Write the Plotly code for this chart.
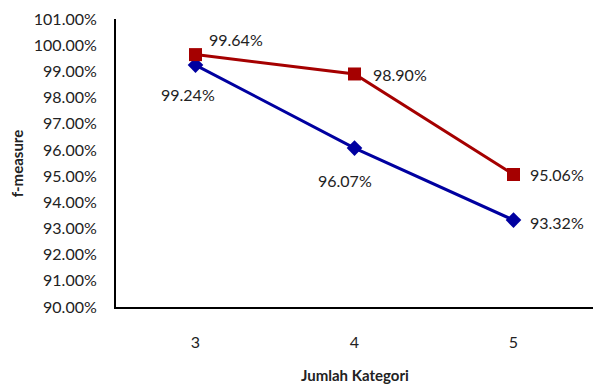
import plotly.graph_objects as go

categories = ["3", "4", "5"]
series_red = [99.64, 98.90, 95.06]
series_blue = [99.24, 96.07, 93.32]
y_ticks = [90, 91, 92, 93, 94, 95, 96, 97, 98, 99, 100, 101]

RED = "#A50000"
BLUE = "#0000A0"
FONT = "Lato, Open Sans, sans-serif"
TXT = "#222222"
FS = 16

fig = go.Figure()
fig.add_trace(go.Scatter(
    x=categories, y=series_blue, mode="lines+markers",
    line=dict(color=BLUE, width=3),
    marker=dict(symbol="diamond", size=12, color=BLUE),
    showlegend=False, cliponaxis=False,
))
fig.add_trace(go.Scatter(
    x=categories, y=series_red, mode="lines+markers",
    line=dict(color=RED, width=3),
    marker=dict(symbol="square", size=13, color=RED),
    showlegend=False, cliponaxis=False,
))

# value labels, offset from each point (pixels); x given as category index
red_offsets = [(40, 15), (45, -1), (43, 0)]
blue_offsets = [(-8, -29), (-10, -32), (43, -2)]
for i, (v, (dx, dy)) in enumerate(zip(series_red, red_offsets)):
    fig.add_annotation(x=i, y=v, text=f"{v:.2f}%", showarrow=False,
                       xshift=dx, yshift=dy, yanchor="middle",
                       font=dict(size=FS, color=TXT, family=FONT))
for i, (v, (dx, dy)) in enumerate(zip(series_blue, blue_offsets)):
    fig.add_annotation(x=i, y=v, text=f"{v:.2f}%", showarrow=False,
                       xshift=dx, yshift=dy, yanchor="middle",
                       font=dict(size=FS, color=TXT, family=FONT))

fig.add_annotation(x=0.5, xref="paper", y=-0.235, yref="paper", yanchor="middle",
                   text="<b>Jumlah Kategori</b>", showarrow=False,
                   font=dict(size=FS - 1, color=TXT, family=FONT))
fig.add_annotation(x=-0.207, xref="paper", y=0.5, yref="paper", xanchor="center",
                   text="<b>f-measure</b>", showarrow=False, textangle=-90,
                   font=dict(size=FS - 1, color=TXT, family=FONT))

fig.update_layout(
    width=597, height=385,
    margin=dict(l=116, r=4, t=19, b=78),
    paper_bgcolor="white", plot_bgcolor="white",
    font=dict(family=FONT, size=FS, color=TXT),
    xaxis=dict(type="category", range=[-0.5, 2.5], showgrid=False, zeroline=False,
               showline=True, linecolor="black", linewidth=2, ticks="",
               ticklabelstandoff=20, tickfont=dict(size=FS)),
    yaxis=dict(range=[90, 101], tickvals=y_ticks, ticktext=[f"{t:.2f}%" for t in y_ticks],
               showgrid=False, zeroline=False, showline=True, linecolor="black",
               linewidth=2, ticks="", ticklabelstandoff=14, tickfont=dict(size=FS)),
)

fig.write_html("out.html")
